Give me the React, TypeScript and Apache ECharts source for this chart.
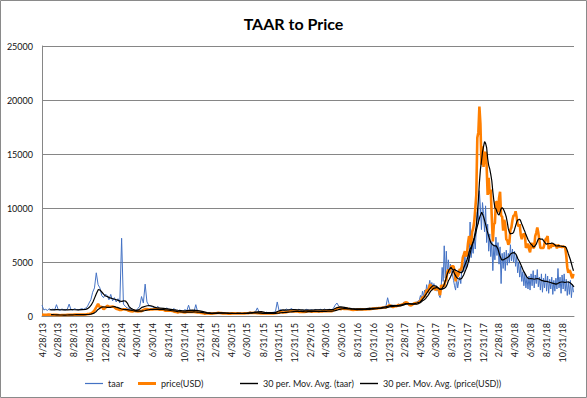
import React, { useEffect, useRef } from "react";
import * as echarts from "echarts";

// ---------- axis ----------
const START_DATE = "2013-04-28";
const END_DATE = "2018-12-16";

const tickLabels = [
  "4/28/13", "6/28/13", "8/28/13", "10/28/13", "12/28/13", "2/28/14", "4/30/14", "6/30/14",
  "8/31/14", "10/31/14", "12/31/14", "2/28/15", "4/30/15", "6/30/15", "8/31/15", "10/31/15",
  "12/31/15", "2/29/16", "4/30/16", "6/30/16", "8/31/16", "10/31/16", "12/31/16", "2/28/17",
  "4/30/17", "6/30/17", "8/31/17", "10/31/17", "12/31/17", "2/28/18", "4/30/18", "6/30/18",
  "8/31/18", "10/31/18",
];

// ---------- taar (weekly, then every 4 days) ----------
const taar2013 = [1000, 560, 620, 520, 680, 560, 640, 560, 1050, 580, 520, 650, 580, 560, 640, 1100, 600, 560, 680, 600, 560, 620, 680, 620, 720, 850, 1200, 1500, 2200, 2600, 4000, 2900, 2600, 1900, 1700, 2000];
const taar2014 = [1900, 1500, 2000, 1400, 1700, 1300, 1600, 1200, 7200, 1100, 900, 750, 700, 650, 560, 600, 520, 700, 900, 1800, 1200, 2950, 1300, 1000, 900, 850, 800, 750, 900, 700, 650, 700, 600, 750, 620, 600, 550, 700, 520, 480, 550, 500, 450, 600, 480, 1000, 450, 500, 420, 1050, 400, 380];
const taar2015 = [330, 280, 250, 300, 260, 280, 250, 290, 300, 280, 320, 270, 260, 250, 280, 240, 260, 240, 270, 250, 230, 260, 240, 260, 280, 270, 300, 380, 320, 350, 400, 750, 350, 300, 320, 300, 350, 280, 300, 320, 350, 400, 1300, 500, 600, 450, 500, 650, 550, 600, 700, 520];
const taar2016 = [600, 500, 650, 480, 550, 500, 620, 560, 520, 580, 500, 600, 540, 560, 620, 500, 650, 580, 600, 620, 560, 700, 1000, 1200, 900, 800, 750, 700, 800, 650, 720, 640, 700, 600, 680, 650, 700, 620, 680, 700, 650, 720, 680, 750, 720, 800, 700, 760, 820, 900, 850, 1690];
const taar2017a = [1000, 850, 900, 1000, 950, 1100, 1000, 1050, 1300, 1200, 1100, 1000, 1050, 1150, 1250, 1300, 1400];
const taar2017b = [1500, 1900, 1600, 2300, 1800, 2400, 2000, 2900, 2300, 2700, 3300, 2600, 3100, 2500, 3000, 2400, 2800, 2300, 2600, 1900, 1700, 2600, 4500, 3200, 6500, 3500, 6000, 3800, 5200, 3900, 4800, 4200, 3800, 3300, 2800, 2400, 3500, 2600, 3200, 3600, 3000, 4300, 5000, 4100, 5600, 4400, 5200, 6000, 5000, 8700, 5400, 6500, 5800, 7200, 6200, 8000, 9600, 8500, 11600, 10000, 8000, 10500];
const taar2018 = [9500, 7800, 10200, 6800, 8500, 6000, 7600, 5500, 6900, 4200, 6600, 5200, 7300, 5600, 6800, 4800, 6400, 3000, 5800, 4400, 5900, 4200, 6100, 4700, 5800, 4900, 6600, 5100, 6200, 5000, 6000, 4600, 5600, 4000, 5000, 3600, 4600, 3200, 4100, 2800, 3900, 2600, 3600, 2500, 3700, 2400, 3900, 2800, 4200, 2600, 3800, 3000, 4300, 2700, 3600, 2400, 3900, 2200, 3500, 2600, 3900, 2300, 3700, 2100, 3400, 2500, 3600, 2000, 3300, 2300, 3500, 2500, 4400, 2600, 3600, 2100, 3800, 2500, 3900, 2300, 3400, 1900, 3200, 2000, 3300, 1700, 2900, 2200];

// ---------- price(USD) ----------
const price2013 = [135, 112, 117, 123, 131, 122, 100, 100, 103, 90, 70, 98, 90, 96, 105, 107, 114, 122, 138, 125, 127, 124, 132, 125, 140, 170, 190, 230, 340, 520, 820, 1130, 800, 870, 620, 750];
const price2014 = [950, 860, 850, 880, 820, 680, 620, 560, 570, 620, 620, 570, 480, 450, 420, 490, 440, 430, 440, 450, 570, 640, 650, 590, 600, 600, 630, 620, 620, 590, 585, 590, 490, 510, 480, 480, 475, 400, 380, 320, 390, 385, 355, 325, 365, 390, 365, 375, 375, 350, 320, 318];
const price2015 = [275, 265, 210, 250, 225, 222, 235, 245, 260, 285, 285, 265, 245, 255, 235, 223, 220, 240, 240, 236, 240, 230, 225, 234, 245, 250, 260, 310, 275, 290, 280, 265, 257, 228, 230, 240, 230, 231, 233, 238, 245, 262, 290, 325, 375, 330, 323, 360, 390, 435, 440, 422];
const price2016 = [430, 448, 385, 400, 378, 376, 405, 438, 433, 405, 413, 411, 417, 420, 420, 428, 460, 450, 458, 456, 442, 530, 575, 680, 760, 630, 700, 650, 678, 660, 625, 590, 570, 580, 575, 610, 608, 610, 603, 610, 618, 640, 655, 700, 710, 700, 730, 735, 765, 780, 790, 895];
const price2017a = [1000, 910, 820, 920, 915, 1025, 1000, 1055, 1150, 1270, 1230, 1020, 965, 1090, 1190, 1185, 1240];
const price2017b = [1330, 1420, 1540, 1720, 1760, 1800, 2050, 2450, 2200, 2480, 2870, 2900, 2450, 2620, 2710, 2430, 2480, 2600, 2510, 2330, 1930, 2860, 2750, 2800, 2720, 3230, 3350, 4100, 4300, 4000, 4350, 4580, 4600, 4600, 4120, 3200, 4100, 3620, 3900, 4340, 4220, 4600, 5430, 5700, 6000, 5500, 5750, 6750, 7400, 7150, 6550, 7800, 8100, 8700, 9900, 11200, 16500, 17000, 19400, 17800, 14000, 15700];
const price2018 = [13800, 15000, 15200, 13900, 11200, 12800, 11300, 11700, 9100, 6900, 8500, 8600, 10600, 10500, 9600, 10900, 11500, 9300, 9200, 7900, 8900, 8500, 7100, 7000, 6600, 6800, 8000, 8200, 8900, 9300, 9300, 9700, 9200, 8500, 8300, 8500, 7500, 7100, 7500, 7600, 7500, 6300, 6500, 6700, 6200, 5900, 6600, 6750, 6300, 6350, 7400, 7700, 8200, 7700, 7000, 6300, 6300, 6300, 6300, 6700, 7100, 7200, 7400, 6200, 6500, 6300, 6700, 6450, 6600, 6500, 6600, 6250, 6600, 6450, 6400, 6450, 6350, 6450, 6400, 6350, 5600, 4500, 4000, 4250, 4100, 3700, 3500, 3900];

// ---------- 30 per. moving average of taar ----------
const taarMA2013 = [580, 570, 590, 580, 560, 570, 590, 580, 570, 590, 610];
const taarMABubble = [680, 800, 1000, 1300, 1700, 2100, 2450, 2400, 2200, 2000, 1850, 1800, 1700, 1650, 1600, 1550, 1500, 1450, 1380, 1350, 1400, 1390, 1200, 850, 720, 620, 550, 520, 560, 650, 800, 850, 900, 950, 960, 950, 900, 820, 780, 760, 740];
const taarMAQuiet = [700, 660, 620, 580, 530, 500, 480, 520, 540, 520, 480, 400, 320, 290, 280, 290, 290, 280, 265, 255, 255, 250, 255, 265, 300, 330, 390, 400, 340, 310, 320, 340, 480, 560, 540, 580, 600, 570, 560, 540, 550, 550, 560, 560, 570, 580, 600, 620, 780, 840, 800, 730, 690, 660, 660, 670, 680, 700, 710, 740, 760, 820, 900, 980, 960, 980, 1050, 1150, 1130, 1100, 1200];
const taarMARecent = [1300, 1500, 1700, 1950, 2200, 2450, 2650, 2800, 2800, 2750, 2600, 2500, 2500, 2800, 3300, 3900, 4300, 4500, 4300, 3900, 3600, 3450, 3400, 3500, 3800, 4200, 4600, 5300, 6100, 6700, 7200, 7900, 8600, 9200, 9600, 9200, 8600, 7900, 7300, 6800, 6600, 6500, 6500, 6200, 5600, 5200, 5200, 5300, 5400, 5500, 5750, 5850, 5870, 5700, 5300, 5000, 4600, 4200, 3900, 3600, 3450, 3460, 3450, 3400, 3450, 3460, 3400, 3300, 3250, 3200, 3200, 3150, 3100, 3050, 3000, 2950, 3000, 3100, 3150, 3150, 3100, 3150, 3150, 3050, 2900, 2700];

// ---------- helpers ----------
const DAY = 86400000;
function toUTC(iso: string) {
  const [y, m, d] = iso.split("-").map(Number);
  return Date.UTC(y, m - 1, d);
}
const T0 = toUTC(START_DATE);
function dayIndex(iso: string) {
  return Math.round((toUTC(iso) - T0) / DAY);
}
function block(startIso: string, step: number, values: number[]) {
  const s = dayIndex(startIso);
  return values.map((v, i) => [s + i * step, v]);
}
function fmt(t: number) {
  const d = new Date(t);
  return `${d.getUTCMonth() + 1}/${d.getUTCDate()}/${String(d.getUTCFullYear()).slice(2)}`;
}

const nDays = dayIndex(END_DATE) + 1;
const categories: string[] = [];
for (let i = 0; i < nDays; i++) categories.push(fmt(T0 + i * DAY));
const tickSet = new Set(tickLabels);

const taarData = [
  ...block("2013-04-28", 7, taar2013),
  ...block("2014-01-05", 7, taar2014),
  ...block("2015-01-04", 7, taar2015),
  ...block("2016-01-03", 7, taar2016),
  ...block("2017-01-01", 7, taar2017a),
  ...block("2017-04-27", 4, taar2017b),
  ...block("2017-12-31", 4, taar2018),
];
const priceData = [
  ...block("2013-04-28", 7, price2013),
  ...block("2014-01-05", 7, price2014),
  ...block("2015-01-04", 7, price2015),
  ...block("2016-01-03", 7, price2016),
  ...block("2017-01-01", 7, price2017a),
  ...block("2017-04-27", 4, price2017b),
  ...block("2017-12-31", 4, price2018),
];
const taarMAData = [
  ...block("2013-05-27", 14, taarMA2013),
  ...block("2013-10-21", 7, taarMABubble),
  ...block("2014-08-11", 14, taarMAQuiet),
  ...block("2017-04-30", 7, taarMARecent),
];
// 30-period trailing moving average of the price points
const priceMAData = priceData
  .filter(([d]) => d >= 29)
  .map(([d]) => {
    const w = priceData.filter(([e]) => e > d - 30 && e <= d);
    const avg = w.reduce((s, p) => s + p[1], 0) / w.length;
    return [d, Math.round(avg)];
  });

const FONT = "Lato, 'Liberation Sans', sans-serif";
const NAME_TAAR = "taar";
const NAME_PRICE = "price(USD)";
const NAME_MA_TAAR = "30 per. Mov. Avg. (taar)";
const NAME_MA_PRICE = "30 per. Mov. Avg. (price(USD))";

function legendAt(name: string, left: number, thickness: number, color: string) {
  return {
    data: [{ name, icon: "rect", itemStyle: { color } }],
    left,
    top: 379,
    itemWidth: 18,
    itemHeight: thickness,
    padding: 0,
    textStyle: { fontFamily: FONT, fontSize: 9, color: "#222" },
    selectedMode: false,
  };
}

export default function App() {
  const ref = useRef<HTMLDivElement>(null);
  useEffect(() => {
    if (!ref.current) return;
    const chart = echarts.init(ref.current, null, { renderer: "svg" });
    chart.setOption({
      animation: false,
      backgroundColor: "#ffffff",
      title: {
        text: "TAAR to Price",
        left: "center",
        top: 10,
        textStyle: { fontFamily: FONT, fontWeight: "bold", fontSize: 16, color: "#000" },
      },
      grid: { left: 42, right: 13, top: 46, bottom: 82 },
      xAxis: {
        type: "category",
        data: categories,
        boundaryGap: false,
        axisLine: { lineStyle: { color: "#868686", width: 1 } },
        axisTick: { show: false },
        splitLine: { show: false },
        axisLabel: {
          interval: (_i: number, v: string) => tickSet.has(v),
          rotate: 90,
          fontFamily: FONT,
          fontSize: 9,
          color: "#111",
          margin: 7,
        },
      },
      yAxis: {
        type: "value",
        min: 0,
        max: 25000,
        interval: 5000,
        axisLine: { show: true, lineStyle: { color: "#868686", width: 1 } },
        axisTick: { show: false },
        axisLabel: {
          fontFamily: FONT,
          fontSize: 9,
          color: "#111",
          margin: 9,
          formatter: (v: number) => String(v),
        },
        splitLine: { lineStyle: { color: "#868686", width: 1 } },
      },
      legend: [
        legendAt(NAME_TAAR, 85, 1.2, "#4472C4"),
        legendAt(NAME_PRICE, 138, 3, "#FF7F00"),
        legendAt(NAME_MA_TAAR, 240, 1.4, "#000"),
        legendAt(NAME_MA_PRICE, 360, 1.4, "#000"),
      ],
      series: [
        {
          name: NAME_TAAR,
          type: "line",
          data: taarData,
          symbol: "none",
          lineStyle: { color: "#4472C4", width: 1 },
          itemStyle: { color: "#4472C4" },
          z: 2,
        },
        {
          name: NAME_PRICE,
          type: "line",
          data: priceData,
          symbol: "none",
          lineStyle: { color: "#FF7F00", width: 2.6 },
          itemStyle: { color: "#FF7F00" },
          z: 3,
        },
        {
          name: NAME_MA_TAAR,
          type: "line",
          data: taarMAData,
          symbol: "none",
          lineStyle: { color: "#000", width: 1.2 },
          itemStyle: { color: "#000" },
          z: 4,
        },
        {
          name: NAME_MA_PRICE,
          type: "line",
          data: priceMAData,
          symbol: "none",
          lineStyle: { color: "#000", width: 1.2 },
          itemStyle: { color: "#000" },
          z: 5,
        },
      ],
      graphic: [
        {
          type: "rect",
          shape: { x: 0.5, y: 0.5, width: 586, height: 397 },
          style: { fill: "none", stroke: "#8a8a8a", lineWidth: 1 },
          silent: true,
          z: 100,
        },
      ],
    });
    return () => chart.dispose();
  }, []);
  return (
    <div
      ref={ref}
      style={{ position: "absolute", left: 0, top: 0, width: 587, height: 398 }}
    />
  );
}
